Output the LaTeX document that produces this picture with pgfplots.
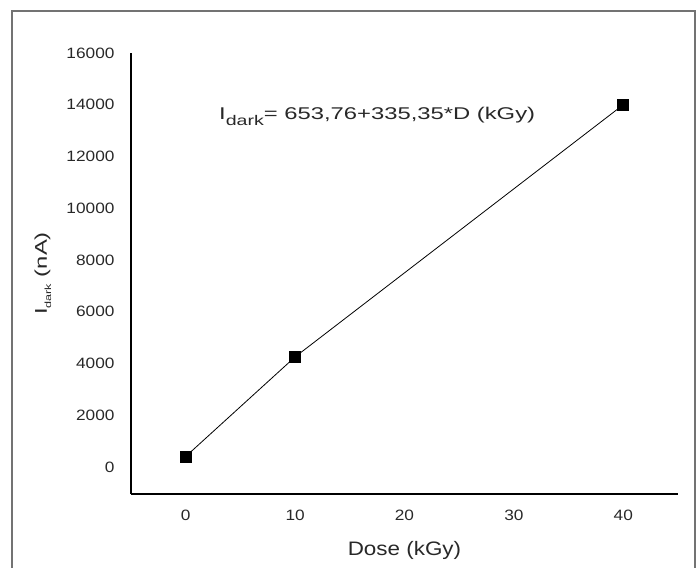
\documentclass[border=0pt]{standalone}
\usepackage{fontspec}
\usepackage{graphicx}
\setmainfont[FakeStretch=1.15]{Liberation Sans}
\newfontfamily\eqfont[FakeStretch=1.4]{Liberation Sans}
\usepackage{pgfplots}
\pgfplotsset{compat=1.18}
\definecolor{txt}{RGB}{40,40,40}
\begin{document}
\begin{tikzpicture}
\useasboundingbox (-131pt,-74pt) rectangle (566pt,494pt);
\draw[line width=1.1pt, black!55] (-119pt,-90pt) rectangle (564pt,483pt);
\begin{axis}[
  name=ax,
  scale only axis,
  width=547pt, height=441pt,
  xmin=-5, xmax=45,
  ymin=-1050, ymax=16000,
  axis x line*=bottom,
  axis y line*=left,
  axis line style={line width=1.2pt, black, -},
  xtick={0,10,20,30,40},
  ytick={0,2000,...,16000},
  major tick length=0pt,
  /pgf/number format/assume math mode=true,
  scaled y ticks=false,
  yticklabel style={font=\fontsize{15}{15}\selectfont, text=txt, xshift=-13pt,
    /pgf/number format/.cd, fixed, precision=0, 1000 sep={}},
  xticklabel style={font=\fontsize{15}{15}\selectfont, text=txt, yshift=-12pt},
  xlabel={Dose (kGy)},
  xlabel style={font=\fontsize{19.5}{19.5}\selectfont, text=txt,
    at={(axis description cs:0.5,0)}, anchor=center, yshift=-56pt},
  clip=false,
]
\addplot[black, line width=0.8pt, mark=square*, mark size=5.5pt,
  mark options={solid, fill=black}] coordinates {
  (0,400) (10,4250) (40,14000)
};
\node[text=txt, anchor=center] at (axis cs:17.5,13550)
  {\eqfont\fontsize{17}{17}\selectfont I\raisebox{-0.3em}{\fontsize{14}{14}\selectfont dark}= 653,76+335,35*D (kGy)};
\end{axis}
\node[rotate=90, text=txt, anchor=center] at ([xshift=-88pt]ax.west)
  {\eqfont\fontsize{17}{17}\selectfont I\raisebox{-0.25em}{\fontsize{9}{9}\selectfont dark} (nA)};
\end{tikzpicture}
\end{document}
